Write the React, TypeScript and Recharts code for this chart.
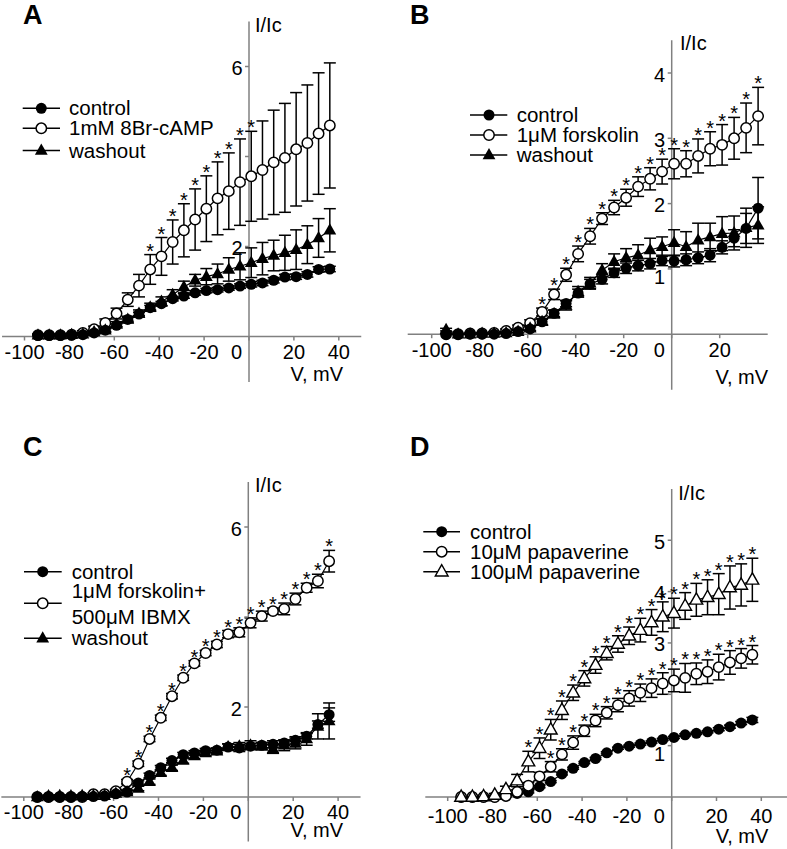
import React from 'react';
import { ScatterChart, Scatter, XAxis, YAxis, ErrorBar, ReferenceLine, ReferenceDot } from 'recharts';

const FONT = '"Liberation Sans", Arial, Helvetica, sans-serif';
const GREY = '#808080';
const INK = '#000';

// test potentials (mV), same steps in every panel
const voltages = [-94, -89, -84, -79, -74, -69, -64, -59, -54, -49, -44, -39, -34, -29, -24, -19, -14, -9, -4, 1, 6, 11, 16, 21, 26, 31, 36];

const ticksX = [-100, -80, -60, -40, -20, 0, 20, 40];
const ticksXB = [-100, -80, -60, -40, -20, 0, 20];
const ticksYA = [2, 4, 6];
const labelsYA = [2, 6];
const ticksYB = [1, 2, 3, 4];
const labelsYB = [1, 2, 3, 4];
const ticksYC = [2, 4, 6];
const labelsYC = [2, 6];
const ticksYD = [1, 2, 3, 4, 5];
const labelsYD = [1, 3, 4, 5];

// A: 8Br-cAMP
const aControl = [0.02, 0.02, 0.02, 0.03, 0.04, 0.08, 0.14, 0.25, 0.38, 0.5, 0.64, 0.73, 0.84, 0.9, 0.97, 1.02, 1.04, 1.08, 1.12, 1.16, 1.19, 1.25, 1.32, 1.33, 1.38, 1.49, 1.5];
const aControlErr = [0.01, 0.01, 0.01, 0.01, 0.02, 0.02, 0.03, 0.03, 0.04, 0.04, 0.05, 0.05, 0.05, 0.05, 0.05, 0.05, 0.05, 0.05, 0.05, 0.06, 0.06, 0.06, 0.06, 0.06, 0.06, 0.06, 0.06];
const aCamp = [0.03, 0.03, 0.03, 0.04, 0.08, 0.16, 0.3, 0.51, 0.82, 1.13, 1.49, 1.78, 2.1, 2.36, 2.6, 2.84, 3.07, 3.23, 3.43, 3.56, 3.7, 3.87, 3.97, 4.16, 4.3, 4.51, 4.69];
const aCampErr = [0.02, 0.02, 0.02, 0.03, 0.05, 0.07, 0.09, 0.12, 0.15, 0.25, 0.33, 0.42, 0.49, 0.59, 0.68, 0.73, 0.81, 0.85, 0.96, 1.0, 1.09, 1.16, 1.21, 1.26, 1.29, 1.35, 1.39];
const aWash = [0.03, 0.03, 0.03, 0.04, 0.05, 0.1, 0.14, 0.27, 0.38, 0.51, 0.65, 0.78, 0.93, 1.1, 1.25, 1.33, 1.39, 1.49, 1.56, 1.64, 1.73, 1.8, 1.86, 1.93, 2.04, 2.19, 2.36];
const aWashErr = [0.02, 0.02, 0.02, 0.02, 0.03, 0.04, 0.05, 0.06, 0.07, 0.08, 0.09, 0.1, 0.11, 0.13, 0.13, 0.18, 0.22, 0.26, 0.3, 0.33, 0.36, 0.34, 0.39, 0.44, 0.42, 0.43, 0.48];

// B: forskolin
const bControl = [0, 0, 0, 0, 0, 0.01, 0.04, 0.08, 0.19, 0.32, 0.47, 0.63, 0.77, 0.84, 0.94, 1.01, 1.05, 1.08, 1.13, 1.12, 1.14, 1.17, 1.21, 1.33, 1.47, 1.62, 1.93];
const bControlErr = [0, 0, 0, 0, 0, 0.01, 0.02, 0.03, 0.04, 0.05, 0.05, 0.06, 0.07, 0.07, 0.07, 0.08, 0.08, 0.08, 0.08, 0.09, 0.09, 0.09, 0.1, 0.1, 0.13, 0.23, 0.47];
const bForsk = [0, 0, 0.01, 0.01, 0.02, 0.05, 0.1, 0.17, 0.34, 0.61, 0.91, 1.23, 1.5, 1.77, 1.94, 2.09, 2.26, 2.38, 2.49, 2.61, 2.61, 2.73, 2.84, 2.9, 3.0, 3.16, 3.34];
const bForskErr = [0, 0, 0.01, 0.01, 0.02, 0.03, 0.04, 0.05, 0.06, 0.08, 0.1, 0.12, 0.12, 0.09, 0.11, 0.13, 0.15, 0.17, 0.19, 0.23, 0.2, 0.26, 0.26, 0.31, 0.32, 0.38, 0.44];
const bWash = [0.07, 0, 0, 0.01, 0.01, 0.02, 0.04, 0.09, 0.19, 0.31, 0.44, 0.65, 0.78, 0.98, 1.11, 1.17, 1.21, 1.29, 1.34, 1.4, 1.34, 1.44, 1.49, 1.54, 1.55, 1.63, 1.67];
const bWashErr = [0.02, 0, 0, 0.01, 0.01, 0.02, 0.03, 0.04, 0.05, 0.06, 0.07, 0.08, 0.09, 0.1, 0.12, 0.14, 0.16, 0.18, 0.15, 0.2, 0.23, 0.26, 0.21, 0.26, 0.26, 0.3, 0.28];

// C: forskolin + IBMX
const cControl = [0, 0, 0, 0, 0.01, 0.01, 0.02, 0.07, 0.11, 0.31, 0.48, 0.65, 0.81, 0.94, 0.98, 1.03, 1.04, 1.11, 1.09, 1.13, 1.15, 1.17, 1.2, 1.26, 1.35, 1.61, 1.83];
const cControlErr = [0, 0, 0, 0, 0.01, 0.01, 0.02, 0.03, 0.04, 0.05, 0.05, 0.05, 0.05, 0.05, 0.05, 0.05, 0.05, 0.07, 0.08, 0.06, 0.06, 0.08, 0.06, 0.08, 0.06, 0.08, 0.15];
const cForsk = [0, 0, 0, 0, 0, 0.06, 0.06, 0.13, 0.34, 0.74, 1.29, 1.76, 2.24, 2.65, 2.97, 3.2, 3.39, 3.62, 3.66, 3.87, 4.02, 4.13, 4.18, 4.4, 4.65, 4.8, 5.24];
const cForskErr = [0, 0, 0, 0, 0, 0.03, 0.03, 0.04, 0.05, 0.06, 0.06, 0.06, 0.06, 0.06, 0.06, 0.06, 0.07, 0.08, 0.1, 0.11, 0.11, 0.07, 0.13, 0.13, 0.1, 0.15, 0.24];
const cWash = [0, 0.02, 0.03, 0.02, 0.03, 0.03, 0.03, 0.08, 0.11, 0.19, 0.34, 0.54, 0.65, 0.81, 0.91, 0.98, 1.02, 1.11, 1.13, 1.15, 1.13, 1.07, 1.15, 1.19, 1.29, 1.57, 1.69];
const cWashErr = [0, 0.02, 0.02, 0.02, 0.02, 0.02, 0.02, 0.03, 0.04, 0.05, 0.06, 0.06, 0.06, 0.06, 0.06, 0.06, 0.06, 0.07, 0.08, 0.1, 0.08, 0.1, 0.12, 0.12, 0.14, 0.28, 0.4];

// D: papaverine
const dControl = [0, 0, 0, 0, 0.02, 0.07, 0.1, 0.2, 0.3, 0.45, 0.56, 0.67, 0.75, 0.86, 0.95, 0.99, 1.03, 1.07, 1.12, 1.16, 1.21, 1.24, 1.27, 1.32, 1.37, 1.44, 1.5];
const dControlErr = [0, 0, 0, 0, 0.01, 0.01, 0.02, 0.02, 0.02, 0.02, 0.02, 0.02, 0.02, 0.02, 0.02, 0.02, 0.02, 0.02, 0.02, 0.02, 0.02, 0.02, 0.02, 0.03, 0.03, 0.03, 0.05];
const dPap10 = [0, 0, 0, 0, 0.02, 0.1, 0.22, 0.4, 0.59, 0.83, 1.06, 1.29, 1.49, 1.64, 1.79, 1.92, 2.03, 2.12, 2.21, 2.27, 2.32, 2.4, 2.44, 2.53, 2.62, 2.7, 2.77];
const dPap10Err = [0, 0, 0, 0, 0.02, 0.04, 0.06, 0.08, 0.1, 0.11, 0.13, 0.11, 0.12, 0.12, 0.13, 0.15, 0.17, 0.18, 0.21, 0.22, 0.28, 0.21, 0.23, 0.25, 0.23, 0.19, 0.18];
const dPap100 = [0, 0, 0.01, 0.04, 0.15, 0.32, 0.69, 0.95, 1.31, 1.69, 2.03, 2.31, 2.57, 2.8, 2.98, 3.14, 3.25, 3.4, 3.51, 3.58, 3.72, 3.84, 3.89, 3.95, 4.08, 4.13, 4.23];
const dPap100Err = [0, 0, 0.01, 0.03, 0.06, 0.12, 0.2, 0.2, 0.2, 0.18, 0.15, 0.15, 0.16, 0.13, 0.16, 0.17, 0.23, 0.25, 0.29, 0.29, 0.26, 0.32, 0.34, 0.4, 0.42, 0.41, 0.42];

type MarkerKind = 'dot' | 'ring' | 'tri' | 'triOpen';

type Series = {
  label: string | string[];
  values: number[];
  errors: number[];
  marker: MarkerKind;
  stars?: [number, number];
};

type PanelDef = {
  letter: string;
  letterAt: [number, number];
  box: [number, number, number, number];
  zero: [number, number];
  scale: [number, number];
  xDomain: [number, number];
  yDomain: [number, number];
  yFloor: number;
  xTicks: number[];
  yTicks: number[];
  yLabels: number[];
  tickGap: number;
  unitAt: [number, number];
  voltAt: [number, number];
  series: Series[];
  drawOrder: number[];
  legend: { line: [number, number]; marker: number; text: number; rows: number[] };
};

function Marker({ kind, cx, cy }: { kind: MarkerKind; cx: number; cy: number }) {
  if (kind === 'dot') return <circle cx={cx} cy={cy} r={5.5} fill={INK} />;
  if (kind === 'ring') return <circle cx={cx} cy={cy} r={5.2} fill="#fff" stroke={INK} strokeWidth={1.5} />;
  const pts = `${cx},${cy - 7} ${cx - 6.4},${cy + 4.3} ${cx + 6.4},${cy + 4.3}`;
  if (kind === 'tri') return <polygon points={pts} fill={INK} />;
  return <polygon points={pts} fill="#fff" stroke={INK} strokeWidth={1.4} />;
}

const StarMark = (p: any) => (
  <text x={p.cx} y={p.cy + 3} textAnchor="middle" fontSize={20} fontFamily={FONT} fill={INK}>
    *
  </text>
);

const XTick = (props: any) => {
  const { x, y, payload, gap } = props;
  const shift = payload.value === 0 ? -12.5 : 0;
  return (
    <text x={x + shift} y={y + gap} dy="0.71em" textAnchor="middle" fontSize={20} fontFamily={FONT} fill={INK}>
      {payload.value}
    </text>
  );
};

const toPoints = (s: Series) => voltages.map((v, i) => ({ v, y: s.values[i], e: s.errors[i] }));

const panels: PanelDef[] = [
  {
    letter: 'A',
    letterAt: [23, 24],
    box: [0, 0, 390, 420],
    zero: [249, 336.5],
    scale: [2.245, 45],
    xDomain: [-110, 50],
    yDomain: [0, 7],
    yFloor: -1.01,
    xTicks: ticksX,
    yTicks: ticksYA,
    yLabels: labelsYA,
    tickGap: 4.5,
    unitAt: [6, 10.2],
    voltAt: [-18.2, 44.5],
    series: [
      { label: 'control', values: aControl, errors: aControlErr, marker: 'dot' },
      { label: '1mM 8Br-cAMP', values: aCamp, errors: aCampErr, marker: 'ring', stars: [10, 19] },
      { label: 'washout', values: aWash, errors: aWashErr, marker: 'tri' },
    ],
    drawOrder: [1, 2, 0],
    legend: { line: [22.7, 60], marker: 41.3, text: 69, rows: [108.3, 128.3, 150.5] },
  },
  {
    letter: 'B',
    letterAt: [410, 24],
    box: [390, 0, 397, 420],
    zero: [671.7, 334.2],
    scale: [2.4, 65.3],
    xDomain: [-110, 40],
    yDomain: [0, 4.5],
    yFloor: -0.85,
    xTicks: ticksXB,
    yTicks: ticksYB,
    yLabels: labelsYB,
    tickGap: 5,
    unitAt: [8.3, 9.7],
    voltAt: [0.3, 50],
    series: [
      { label: 'control', values: bControl, errors: bControlErr, marker: 'dot' },
      { label: '1μM forskolin', values: bForsk, errors: bForskErr, marker: 'ring', stars: [8, 26] },
      { label: 'washout', values: bWash, errors: bWashErr, marker: 'tri' },
    ],
    drawOrder: [1, 2, 0],
    legend: { line: [470, 507.3], marker: 489, text: 516.7, rows: [115, 135, 155] },
  },
  {
    letter: 'C',
    letterAt: [23, 455.5],
    box: [0, 420, 390, 429],
    zero: [248.3, 797],
    scale: [2.245, 45],
    xDomain: [-110, 50],
    yDomain: [0, 7],
    yFloor: -0.99,
    xTicks: ticksX,
    yTicks: ticksYC,
    yLabels: labelsYC,
    tickGap: 4,
    unitAt: [6.7, 9.7],
    voltAt: [-17.5, 40],
    series: [
      { label: 'control', values: cControl, errors: cControlErr, marker: 'dot' },
      { label: ['1μM forskolin+', '500μM IBMX'], values: cForsk, errors: cForskErr, marker: 'ring', stars: [8, 26] },
      { label: 'washout', values: cWash, errors: cWashErr, marker: 'tri' },
    ],
    drawOrder: [1, 2, 0],
    legend: { line: [24, 61.7], marker: 42.7, text: 71.7, rows: [571.7, 603.3, 638.3] },
  },
  {
    letter: 'D',
    letterAt: [410, 455.5],
    box: [390, 420, 398, 429],
    zero: [671.7, 797],
    scale: [2.24, 51.35],
    xDomain: [-110, 51.5],
    yDomain: [0, 6],
    yFloor: -1.02,
    xTicks: ticksX,
    yTicks: ticksYD,
    yLabels: labelsYD,
    tickGap: 8,
    unitAt: [6.6, 11],
    voltAt: [-18.7, 46],
    series: [
      { label: 'control', values: dControl, errors: dControlErr, marker: 'dot' },
      { label: '10μM papaverine', values: dPap10, errors: dPap10Err, marker: 'ring', stars: [8, 26] },
      { label: '100μM papaverine', values: dPap100, errors: dPap100Err, marker: 'triOpen', stars: [6, 26] },
    ],
    drawOrder: [0, 1, 2],
    legend: { line: [423.3, 460], marker: 441.7, text: 470, rows: [531.7, 551.7, 571.7] },
  },
];

function Panel({ def }: { def: PanelDef }) {
  const [bx, by, bw, bh] = def.box;
  const [zx, zy] = def.zero;
  const [sx, sy] = def.scale;
  const left = zx + def.xDomain[0] * sx;
  const right = zx + def.xDomain[1] * sx;
  const top = zy - def.yDomain[1] * sy;
  const margin = { left: left - bx, right: bx + bw - right, top: top - by, bottom: 0 };
  const axisHeight = by + bh - zy;

  const stars: { v: number; y: number }[] = [];
  def.series.forEach((s) => {
    if (!s.stars) return;
    for (let i = s.stars[0]; i <= s.stars[1]; i++) {
      stars.push({ v: voltages[i], y: s.values[i] + s.errors[i] });
    }
  });

  return (
    <div style={{ position: 'absolute', left: bx, top: by }}>
      <ScatterChart width={bw} height={bh} margin={margin}>
        <XAxis
          type="number"
          dataKey="v"
          domain={def.xDomain}
          ticks={def.xTicks}
          interval={0}
          height={axisHeight}
          axisLine={{ stroke: GREY, strokeWidth: 1.5 }}
          tickLine={{ stroke: GREY, strokeWidth: 1.5 }}
          tickSize={4}
          tickMargin={0}
          tick={<XTick gap={def.tickGap} />}
        />
        <YAxis type="number" dataKey="y" domain={def.yDomain} hide />
        <ReferenceLine
          segment={[
            { x: 0, y: def.yFloor },
            { x: 0, y: def.yDomain[1] },
          ]}
          stroke={GREY}
          strokeWidth={1.5}
          ifOverflow="visible"
        />
        {def.yTicks.map((t) => (
          <ReferenceDot
            key={`yt${t}`}
            x={0}
            y={t}
            ifOverflow="visible"
            shape={(d: any) => (
              <g>
                <line x1={d.cx - 4} x2={d.cx} y1={d.cy} y2={d.cy} stroke={GREY} strokeWidth={1.5} />
                {def.yLabels.includes(t) && (
                  <text
                    x={d.cx - 6.5}
                    y={d.cy + (t === 1 ? 15.5 : 8.5)}
                    textAnchor="end"
                    fontSize={20}
                    fontFamily={FONT}
                    fill={INK}
                  >
                    {t}
                  </text>
                )}
              </g>
            )}
          />
        ))}
        <ReferenceDot
          x={0}
          y={def.yDomain[1]}
          ifOverflow="visible"
          shape={(d: any) => (
            <text x={d.cx + def.unitAt[0]} y={d.cy + def.unitAt[1]} fontSize={20} fontFamily={FONT} fill={INK}>
              I/Ic
            </text>
          )}
        />
        <ReferenceDot
          x={def.xDomain[1]}
          y={0}
          ifOverflow="visible"
          shape={(d: any) => (
            <text
              x={d.cx + def.voltAt[0]}
              y={d.cy + def.voltAt[1]}
              textAnchor="end"
              fontSize={20}
              fontFamily={FONT}
              fill={INK}
            >
              V, mV
            </text>
          )}
        />
        {def.drawOrder.map((i) => {
          const s = def.series[i];
          return (
            <Scatter
              key={`s${i}`}
              data={toPoints(s)}
              fill={INK}
              line={{ stroke: INK, strokeWidth: 1.2 }}
              shape={(p: any) => <Marker kind={s.marker} cx={p.cx} cy={p.cy} />}
              isAnimationActive={false}
            >
              <ErrorBar dataKey="e" direction="y" width={6} stroke={INK} strokeWidth={1.5} />
            </Scatter>
          );
        })}
        <Scatter data={stars} shape={StarMark} isAnimationActive={false} />
      </ScatterChart>
    </div>
  );
}

function LegendBlock({ def }: { def: PanelDef }) {
  const { line, marker, text, rows } = def.legend;
  return (
    <g>
      {def.series.map((s, i) => {
        const y = rows[i];
        return (
          <g key={i}>
            <line x1={line[0]} x2={line[1]} y1={y} y2={y} stroke={INK} strokeWidth={1.5} />
            <Marker kind={s.marker} cx={marker} cy={y} />
            {Array.isArray(s.label) ? (
              s.label.map((t, j) => (
                <text key={j} x={text} y={y - 5 + j * 25.5} fontSize={20.5} fill={INK}>
                  {t}
                </text>
              ))
            ) : (
              <text x={text} y={y + 7} fontSize={20.5} fill={INK}>
                {s.label}
              </text>
            )}
          </g>
        );
      })}
    </g>
  );
}

export default function App() {
  return (
    <div style={{ position: 'absolute', left: 0, top: 0, width: 787, height: 849, background: '#fff', overflow: 'hidden' }}>
      {panels.map((p) => (
        <Panel key={p.letter} def={p} />
      ))}
      <svg
        width={787}
        height={849}
        style={{ position: 'absolute', left: 0, top: 0, pointerEvents: 'none' }}
        fontFamily={FONT}
      >
        {panels.map((p) => (
          <g key={p.letter}>
            <text x={p.letterAt[0]} y={p.letterAt[1]} fontSize={27} fontWeight="bold" fill={INK}>
              {p.letter}
            </text>
            <LegendBlock def={p} />
          </g>
        ))}
      </svg>
    </div>
  );
}
